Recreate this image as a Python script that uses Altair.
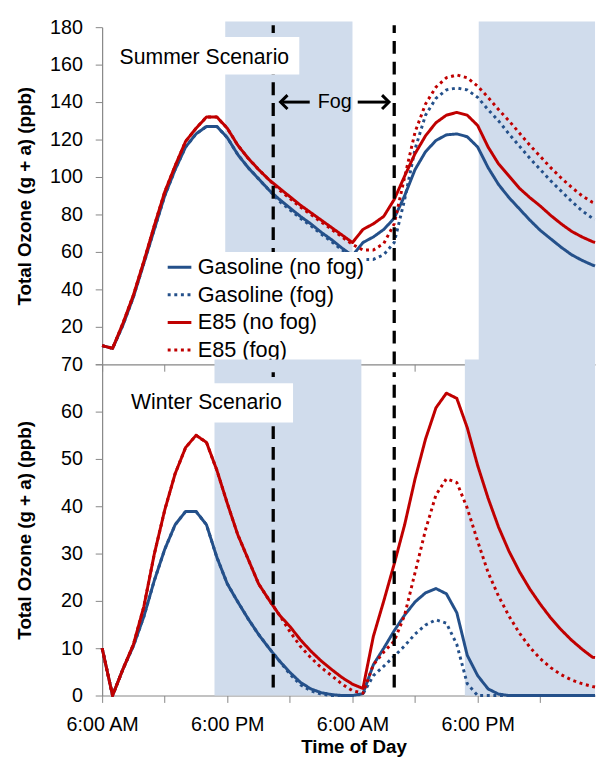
import altair as alt
import pandas as pd

# hours since 6:00 AM of day 1; the last entry is the right edge of the plot
hours = list(range(48)) + [47.25]

series_names = ["Gasoline (no fog)", "Gasoline (fog)", "E85 (no fog)", "E85 (fog)"]
series_colors = ["#24508a", "#24508a", "#c00000", "#c00000"]
series_dash = [[1, 0], [3, 3.7], [1, 0], [3, 3.7]]

summer_gas_nofog = [10, 8.5, 21, 36, 54, 72, 90, 104, 116, 123, 127, 127, 121, 112, 105, 99, 93, 88, 83.5, 79,
                    75, 70.5, 66.5, 62, 58, 65, 68, 72, 78, 90, 104, 113.5, 119.5, 122.5, 123, 121.5, 116, 105,
                    96, 89, 83, 77, 71.5, 67, 62.5, 58.5, 55.5, 53, 52.5]
summer_gas_fog = [10, 8.5, 21, 36, 54, 72, 90, 104, 116, 123, 127, 127, 121, 112, 105, 99, 93, 87, 82.5, 78,
                  74, 69.5, 65.5, 61, 57.5, 56, 56, 58.5, 65, 88, 115, 133, 142, 146.5, 147.5, 146.5, 142.5, 136,
                  130, 123, 116.5, 110, 104, 98, 92.5, 87, 82, 78, 77.5]
summer_e85_nofog = [10, 8.5, 22, 37, 55, 74, 92, 106, 119, 126, 132, 132, 126, 117, 110, 104, 98.5, 94, 89.5, 85,
                    81, 77, 73, 69, 65, 72, 75, 79, 88, 100.5, 112.5, 122, 129, 133, 134.5, 133, 127.5, 116,
                    107, 100.5, 94, 89, 84.5, 79.5, 75, 71, 68, 65.5, 65]
summer_e85_fog = [10, 8.5, 22, 37, 55, 74, 92, 106, 119, 126, 132, 132, 126, 117, 110, 104, 98.5, 93, 88.5, 84,
                  80, 76, 72, 68, 64, 61, 61, 64.5, 75, 100, 124, 139, 148, 153, 154.5, 153, 148.5, 142.5,
                  136, 130, 123.5, 117, 111, 105, 99.5, 94.5, 90, 86.5, 86]

winter_gas_nofog = [10, 0, 5.6, 10.5, 16.7, 24.3, 30.9, 36.1, 38.9, 38.9, 36.1, 29.2, 23.6, 19.8, 16.2, 12.9, 10,
                    7.3, 4.9, 2.8, 1.4, 0.6, 0.2, 0, 0, 0.4, 6.5, 10, 13.7, 17, 19.8, 21.7, 22.6, 21.5, 17.5,
                    8.5, 4.2, 1.4, 0.3, 0, 0, 0, 0, 0, 0, 0, 0, 0, 0]
winter_gas_fog = [10, 0, 5.6, 10.5, 16.7, 24.3, 30.9, 36.1, 38.9, 38.9, 36.1, 29.2, 23.6, 19.8, 16.2, 12.9, 10,
                  7.3, 4.5, 2.3, 1.0, 0.3, 0, 0, 0, 0.3, 4.2, 6.2, 8.3, 10.5, 13, 14.9, 16, 15.3, 10.8, 2.5,
                  0, 0, 0, 0, 0, 0, 0, 0, 0, 0, 0, 0, 0]
winter_e85_nofog = [10, 0, 5.6, 10.8, 18.8, 29.9, 39.2, 46.9, 52.4, 55, 53.5, 47.6, 40.6, 34, 28.8, 23.6, 20.2,
                    17, 14.6, 11.8, 9.4, 7.3, 5.5, 3.8, 2.4, 1.5, 12.5, 20, 27.8, 36.1, 45.8, 54.2, 60.8, 63.9,
                    62.8, 56.6, 48.6, 41.7, 35.6, 30.5, 26.2, 22.5, 19.3, 16.4, 13.9, 11.7, 9.8, 8.1, 8.0]
winter_e85_fog = [10, 0, 5.6, 10.8, 18.8, 29.9, 39.2, 46.9, 52.4, 55, 53.5, 47.6, 40.6, 34, 28.8, 23.6, 20.2,
                  17, 13.5, 10.4, 8, 5.9, 4.2, 2.4, 1.0, 0.5, 6.5, 9.2, 11.5, 17, 26, 35, 42.4, 45.8, 45, 39.6,
                  32.6, 26, 21, 16.8, 13.2, 10.2, 7.8, 5.9, 4.4, 3.3, 2.5, 1.9, 1.8]

x_max = 47.25
tick_hours = list(range(0, 48, 6))

# night shading (hours since 6:00 AM)
summer_night_start = [11.8, 36.1]
summer_night_end = [24.0, x_max]
summer_night_top = 183
winter_night_start = [10.77, 34.77]
winter_night_end = [24.85, x_max]
winter_night_top = 71

fog_bounds = [16.4, 28.0]


def long_df(arrays):
    rows = []
    for name, arr in zip(series_names, arrays):
        for h, v in zip(hours, arr):
            rows.append({"hour": h, "ozone": v, "series": name})
    return pd.DataFrame(rows)


summer_df = long_df([summer_gas_nofog, summer_gas_fog, summer_e85_nofog, summer_e85_fog])
winter_df = long_df([winter_gas_nofog, winter_gas_fog, winter_e85_nofog, winter_e85_fog])

xscale = alt.Scale(domain=[0, x_max], nice=False, zero=False)
TITLE_Y = "Total Ozone (g + a) (ppb)"


def build_panel(df, ymax, ystep, shade_start, shade_end, shade_top, top_panel, width, height,
                box, box_text, extra=None):
    yscale = alt.Scale(domain=[0, ymax], nice=False)
    yvals = list(range(0, ymax + 1, ystep))
    if top_panel:
        xaxis = alt.Axis(values=tick_hours, labels=False, title=None, tickSize=7)
        yaxis = alt.Axis(values=yvals, tickSize=7, labelPadding=13, labelOverlap=False, labelFlush=False,
                         title=TITLE_Y, titleX=-79, titleY=height / 2,
                         titleAngle=270, titleAlign="center", titleBaseline="middle",
                         labelExpr="datum.value == 0 ? '' : datum.label")
        leg = alt.Legend(title=None, orient="none", legendX=63, legendY=228, fillColor="white",
                         padding=2, symbolType="stroke", symbolSize=576, symbolStrokeWidth=3,
                         labelFontSize=22, labelOffset=5, rowPadding=3, labelLimit=300)
    else:
        xaxis = alt.Axis(values=tick_hours, title="Time of Day", tickSize=7, labelPadding=13,
                         titlePadding=3, titleX=255, labelOverlap=False, labelFlush=False,
                         labelExpr="datum.value % 24 == 0 ? '6:00 AM' : (datum.value % 24 == 12 ? '6:00 PM' : '')")
        yaxis = alt.Axis(values=yvals, tickSize=7, labelPadding=13, labelOverlap=False, labelFlush=False,
                         title=TITLE_Y, titleX=-79, titleY=height / 2,
                         titleAngle=270, titleAlign="center", titleBaseline="middle")
        leg = None

    def X(f):
        return alt.X(f, scale=xscale, axis=xaxis)

    def Y(f):
        return alt.Y(f, scale=yscale, axis=yaxis)

    shade_df = pd.DataFrame({"start": shade_start, "end": shade_end,
                             "low": [0] * len(shade_start), "high": [shade_top] * len(shade_start)})
    layers = [alt.Chart(shade_df).mark_rect(color="#d0dcec").encode(
        x=X("start:Q"), x2="end:Q", y=Y("low:Q"), y2="high:Q")]

    color = alt.Color("series:N", scale=alt.Scale(domain=series_names, range=series_colors), legend=leg)
    dash = alt.StrokeDash("series:N", scale=alt.Scale(domain=series_names, range=series_dash), legend=leg)
    for name in ["Gasoline (fog)", "Gasoline (no fog)", "E85 (fog)", "E85 (no fog)"]:
        layers.append(
            alt.Chart(df).transform_filter(alt.datum.series == name).mark_line(
                strokeWidth=3, strokeJoin="round").encode(
                x=X("hour:Q"), y=Y("ozone:Q"), color=color, strokeDash=dash))

    if top_panel:
        rule_low, rule_high = 0, 181
    else:
        rule_low, rule_high = 1.7, 68.3
    fog_df = pd.DataFrame({"h": fog_bounds, "lo": [rule_low] * 2, "hi": [rule_high] * 2})
    layers.append(alt.Chart(fog_df).mark_rule(color="black", strokeWidth=3.3, strokeDash=[13, 8]).encode(
        x=X("h:Q"), y=Y("lo:Q"), y2="hi:Q"))

    bx = pd.DataFrame({"a": [box[0]], "b": [box[1]], "lo": [box[2]], "hi": [box[3]]})
    layers.append(alt.Chart(bx).mark_rect(color="white").encode(
        x=X("a:Q"), x2="b:Q", y=Y("lo:Q"), y2="hi:Q"))
    bt = pd.DataFrame({"h": [box_text[0]], "v": [box_text[1]], "t": [box_text[2]]})
    layers.append(alt.Chart(bt).mark_text(fontSize=21.5, color="black", align="center",
                                          baseline="middle").encode(x=X("h:Q"), y=Y("v:Q"), text="t:N"))

    if extra is not None:
        fh, fv = extra
        layers.append(alt.Chart(pd.DataFrame({"h": [fh], "v": [fv], "t": ["Fog"]})).mark_text(
            fontSize=20, color="black", align="center", baseline="middle").encode(
            x=X("h:Q"), y=Y("v:Q"), text="t:N"))
        layers.append(alt.Chart(pd.DataFrame({"a": [17.3, 24.5], "b": [19.9, 27.3],
                                              "v": [fv, fv]})).mark_rule(
            color="black", strokeWidth=3).encode(x=X("a:Q"), x2="b:Q", y=Y("v:Q")))
        layers.append(alt.Chart(pd.DataFrame({"h": [17.1], "v": [fv]})).mark_point(
            shape="M1,-1L0,0L1,1", size=200, filled=False, color="black", strokeWidth=3,
            opacity=1).encode(x=X("h:Q"), y=Y("v:Q")))
        layers.append(alt.Chart(pd.DataFrame({"h": [27.5], "v": [fv]})).mark_point(
            shape="M-1,-1L0,0L-1,1", size=200, filled=False, color="black", strokeWidth=3,
            opacity=1).encode(x=X("h:Q"), y=Y("v:Q")))

    return alt.layer(*layers).properties(width=width, height=height)


top = build_panel(summer_df, 180, 20, summer_night_start, summer_night_end, summer_night_top, True,
                  500, 342, box=(0.85, 18.9, 154.7, 174.7), box_text=(9.8, 163.7, "Summer Scenario"),
                  extra=(22.3, 140))
bottom = build_panel(winter_df, 70, 10, winter_night_start, winter_night_end, winter_night_top, False,
                     500, 336, box=(1.8, 18.3, 57.7, 66), box_text=(10.0, 61.9, "Winter Scenario"))

chart = alt.vconcat(top, bottom, spacing=0, bounds="flush").resolve_legend(
    color="independent", strokeDash="independent"
).properties(
    padding={"left": 7.5, "top": 4, "right": 0, "bottom": 0}
).configure(
    font="Liberation Sans"
).configure_view(
    stroke=None
).configure_axis(
    domainColor="#868686", tickColor="#868686", labelColor="black", labelFontSize=20,
    titleFontSize=19, titleFontWeight="bold", titleColor="black", grid=False, domainWidth=1.2,
    labelOverlap=False, labelFlush=False
)

chart.save("out.html", embed_options={"renderer": "svg", "actions": False})
